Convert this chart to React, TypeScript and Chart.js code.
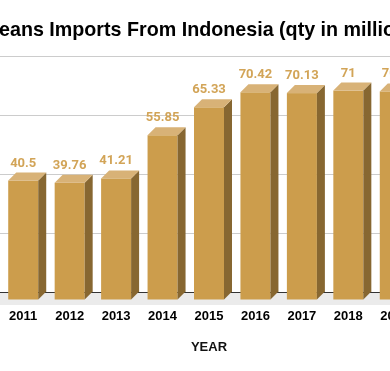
import React, { useEffect, useRef } from "react";
import { Chart, registerables } from "chart.js";

Chart.register(...registerables);

const TITLE = "Coffee Beans Imports From Indonesia (qty in million kg)";
const X_TITLE = "YEAR";
const years = ["2011", "2012", "2013", "2014", "2015", "2016", "2017", "2018", "2019"];
const imports = [40.5, 39.76, 41.21, 55.85, 65.33, 70.42, 70.13, 71, 70.7];
const yTicks = [0, 20, 40, 60, 80];

const CANVAS_W = 480;
const CANVAS_H = 371;
const OFFSET_X = 40;
const DEPTH = 8;
const FRONT = "#cc9d4c";
const TOPC = "#d8b277";
const SIDE = "#876731";
const LABEL = "#d2a457";

const bars3d = {
  id: "bars3d",
  beforeDatasetsDraw(chart: any) {
    const { ctx, chartArea } = chart;
    ctx.save();
    ctx.fillStyle = "#ebebeb";
    ctx.fillRect(chartArea.left, chartArea.bottom + 1, chartArea.right - chartArea.left + 20, 12);
    ctx.restore();
  },
  afterDatasetsDraw(chart: any) {
    const { ctx } = chart;
    const meta = chart.getDatasetMeta(0);
    const values = chart.data.datasets[0].data;
    ctx.save();
    meta.data.forEach((el: any, i: number) => {
      const { x, y, base, width } = el.getProps(["x", "y", "base", "width"], true);
      const x0 = x - width / 2;
      const x1 = x + width / 2;
      const top = y + DEPTH;
      const bottom = base + DEPTH;
      ctx.fillStyle = FRONT;
      ctx.fillRect(x0, top, width, bottom - top);
      ctx.fillStyle = SIDE;
      ctx.beginPath();
      ctx.moveTo(x1, top);
      ctx.lineTo(x1 + DEPTH, top - DEPTH);
      ctx.lineTo(x1 + DEPTH, bottom - DEPTH);
      ctx.lineTo(x1, bottom);
      ctx.closePath();
      ctx.fill();
      ctx.fillStyle = TOPC;
      ctx.beginPath();
      ctx.moveTo(x0, top);
      ctx.lineTo(x1, top);
      ctx.lineTo(x1 + DEPTH, top - DEPTH);
      ctx.lineTo(x0 + DEPTH, top - DEPTH);
      ctx.closePath();
      ctx.fill();
      ctx.fillStyle = LABEL;
      ctx.font = "bold 13px Roboto";
      ctx.textAlign = "center";
      ctx.textBaseline = "alphabetic";
      ctx.fillText(String(values[i]), x, top - DEPTH - 6);
    });
    ctx.restore();
  },
  afterDraw(chart: any) {
    const { ctx } = chart;
    ctx.save();
    ctx.font = "bold 19.7px 'Liberation Sans', Arial, sans-serif";
    ctx.fillStyle = "#000";
    ctx.textAlign = "left";
    ctx.textBaseline = "alphabetic";
    const lead = ctx.measureText("Coffee B").width;
    ctx.fillText(TITLE, OFFSET_X - 1 - lead, 36);
    ctx.restore();
  },
};

export default function App() {
  const ref = useRef<HTMLCanvasElement | null>(null);
  useEffect(() => {
    if (!ref.current) return;
    const chart = new Chart(ref.current, {
      type: "bar",
      data: {
        labels: years,
        datasets: [
          {
            data: imports,
            backgroundColor: "transparent",
            borderWidth: 0,
            categoryPercentage: 1,
            barPercentage: 0.646,
          },
        ],
      },
      options: {
        responsive: false,
        animation: false,
        devicePixelRatio: 1,
        layout: { padding: { top: 56, right: CANVAS_W - OFFSET_X - 418, bottom: 0, left: 0 } },
        plugins: { legend: { display: false }, tooltip: { enabled: false }, title: { display: false } },
        scales: {
          x: {
            grid: { display: false, drawTicks: false },
            border: { display: true, color: "#333", width: 1 },
            ticks: {
              padding: 17,
              color: "#000",
              font: { family: "'Liberation Sans', Arial, sans-serif", size: 13, weight: "bold" },
            },
            title: {
              display: true,
              text: X_TITLE,
              color: "#111",
              font: { family: "'Liberation Sans', Arial, sans-serif", size: 13, weight: "bold" },
              padding: { top: 0, bottom: 15.5 },
            },
            afterFit(scale: any) {
              scale.height = CANVAS_H - 292;
            },
          },
          y: {
            min: 0,
            max: 80,
            afterBuildTicks(scale: any) {
              scale.ticks = yTicks.map((v) => ({ value: v }));
            },
            grid: { color: "#cccccc", lineWidth: 1, drawTicks: false },
            border: { display: false },
            ticks: { color: "#444", padding: 6, font: { size: 11 } },
            afterFit(scale: any) {
              scale.width = OFFSET_X;
            },
          },
        },
      },
      plugins: [bars3d],
    });
    return () => chart.destroy();
  }, []);
  return (
    <div style={{ position: "fixed", left: 0, top: 0, width: 390, height: 371, overflow: "hidden", background: "#fff" }}>
      <canvas
        ref={ref}
        width={CANVAS_W}
        height={CANVAS_H}
        style={{ position: "absolute", left: -OFFSET_X, top: 0, display: "block" }}
      />
    </div>
  );
}
